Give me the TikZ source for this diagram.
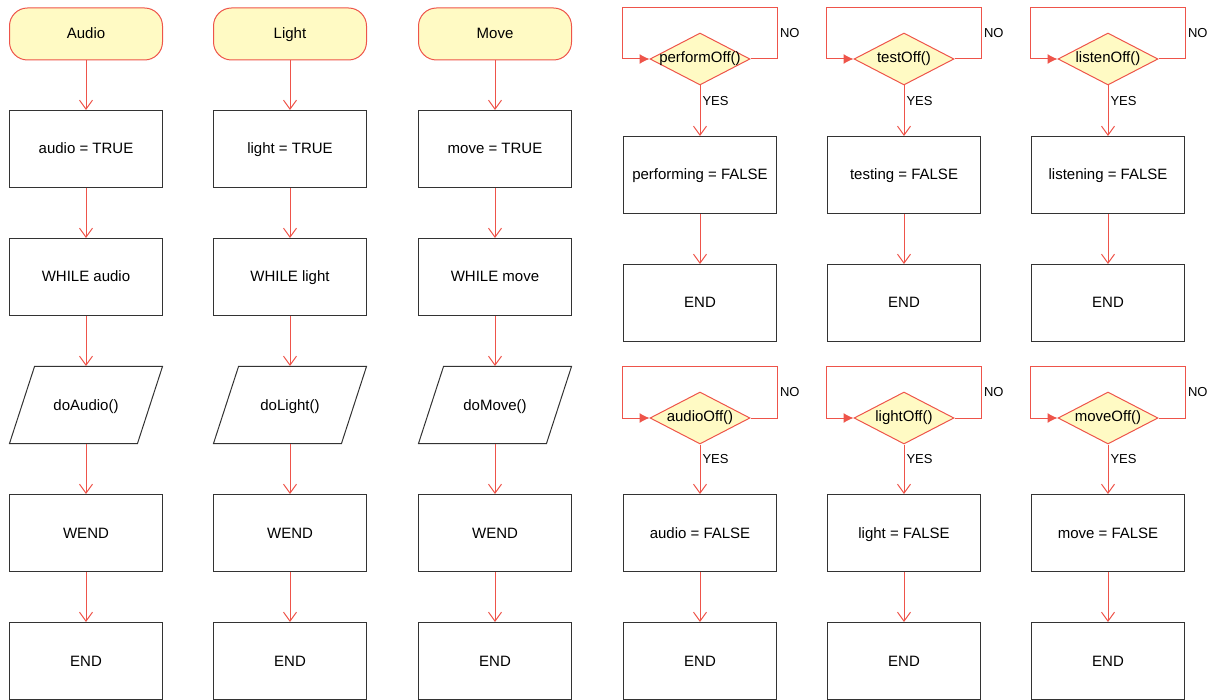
\documentclass[tikz,border=0pt]{standalone}
\usepackage{fontspec}
\setmainfont{Liberation Sans}
\usetikzlibrary{shapes.geometric, arrows.meta}
\definecolor{flowred}{RGB}{238,84,74}
\definecolor{flowyellow}{RGB}{255,250,196}
\tikzset{
    startstop/.style = {
        rectangle, rounded corners=18pt,
        draw=flowred, fill=flowyellow,
        minimum width=153pt,
        minimum height=52pt,
        text height=12pt, text depth=2pt,
        align=center
    },
    process/.style = {
        rectangle, draw=black!80,
        minimum width=153pt,
        minimum height=77pt,
        text height=12pt, text depth=2pt,
        align=center
    },
    io/.style = {
        trapezium, trapezium left angle=72, trapezium right angle=108,
        trapezium stretches body=true,
        draw=black!80,
        minimum width=153pt,
        text height=12pt, text depth=2pt,
        inner ysep=31.5pt
    },
    decision/.style = {
        diamond, draw=flowred, fill=flowyellow,
        minimum width=100pt,
        minimum height=52pt,
        inner sep=0pt
    },
    arrow/.style = {
        -{Straight Barb[length=9pt, width=13pt]}, draw=flowred
    },
    loopback/.style = {
        -{Latex[length=10pt, width=10pt]}, draw=flowred
    },
    answer/.style = {
        font=\fontsize{13}{15}\selectfont, inner sep=2pt
    }
}

\begin{document}
\begin{tikzpicture}[x=1pt, y=-1pt, node distance=128pt, line width=1pt,
    font=\fontsize{15}{18}\selectfont]
\useasboundingbox (0,0) rectangle (1215,700);

% audio thread
\node (audio) [startstop] at (86,34) {Audio};
\node (audioon) [process, below of=audio, yshift=13pt] {audio = TRUE};
\node (audiowhile) [process, below of=audioon] {WHILE audio};
\node (doaudio) [io, below of=audiowhile] {doAudio()};
\node (audiowend) [process, below of=doaudio] {WEND};
\node (audioend) [process, below of=audiowend] {END};

% light thread
\node (light) [startstop] at (290,34) {Light};
\node (lighton) [process, below of=light, yshift=13pt] {light = TRUE};
\node (lightwhile) [process, below of=lighton] {WHILE light};
\node (dolight) [io, below of=lightwhile] {doLight()};
\node (lightwend) [process, below of=dolight] {WEND};
\node (lightend) [process, below of=lightwend] {END};

% move thread
\node (move) [startstop] at (495,34) {Move};
\node (moveon) [process, below of=move, yshift=13pt] {move = TRUE};
\node (movewhile) [process, below of=moveon] {WHILE move};
\node (domove) [io, below of=movewhile] {doMove()};
\node (movewend) [process, below of=domove] {WEND};
\node (moveend) [process, below of=movewend] {END};

\draw [arrow] (audio) -- (audioon);
\draw [arrow] (audioon) -- (audiowhile);
\draw [arrow] (audiowhile) -- (doaudio);
\draw [arrow] (doaudio) -- (audiowend);
\draw [arrow] (audiowend) -- (audioend);

\draw [arrow] (light) -- (lighton);
\draw [arrow] (lighton) -- (lightwhile);
\draw [arrow] (lightwhile) -- (dolight);
\draw [arrow] (dolight) -- (lightwend);
\draw [arrow] (lightwend) -- (lightend);

\draw [arrow] (move) -- (moveon);
\draw [arrow] (moveon) -- (movewhile);
\draw [arrow] (movewhile) -- (domove);
\draw [arrow] (domove) -- (movewend);
\draw [arrow] (movewend) -- (moveend);

% stop flags, top row
\node (perform) [decision, label=center:performOff()] at (700,59) {};
\node (performoff) [process, below of=perform, yshift=12pt] {performing = FALSE};
\node (performend) [process, below of=performoff] {END};

\node (test) [decision, label=center:testOff()] at (904,59) {};
\node (testoff) [process, below of=test, yshift=12pt] {testing = FALSE};
\node (testend) [process, below of=testoff] {END};

\node (listen) [decision, label=center:listenOff()] at (1108,59) {};
\node (listenoff) [process, below of=listen, yshift=12pt] {listening = FALSE};
\node (listenend) [process, below of=listenoff] {END};

% stop flags, bottom row
\node (audiochk) [decision, label=center:audioOff()] at (700,418) {};
\node (audiooff) [process, below of=audiochk, yshift=13pt] {audio = FALSE};
\node (audiooffend) [process, below of=audiooff] {END};

\node (lightchk) [decision, label=center:lightOff()] at (904,418) {};
\node (lightoff) [process, below of=lightchk, yshift=13pt] {light = FALSE};
\node (lightoffend) [process, below of=lightoff] {END};

\node (movechk) [decision, label=center:moveOff()] at (1108,418) {};
\node (moveoff) [process, below of=movechk, yshift=13pt] {move = FALSE};
\node (moveoffend) [process, below of=moveoff] {END};

\draw [arrow] (perform) -- node[answer, right, pos=0.3] {YES} (performoff);
\draw [arrow] (performoff) -- (performend);
\draw [loopback] (perform.east) -| node[answer, right, pos=0.75] {NO} ++(27,-51) -| ([xshift=-27pt]perform.west) -- (perform.west);

\draw [arrow] (test) -- node[answer, right, pos=0.3] {YES} (testoff);
\draw [arrow] (testoff) -- (testend);
\draw [loopback] (test.east) -| node[answer, right, pos=0.75] {NO} ++(27,-51) -| ([xshift=-27pt]test.west) -- (test.west);

\draw [arrow] (listen) -- node[answer, right, pos=0.3] {YES} (listenoff);
\draw [arrow] (listenoff) -- (listenend);
\draw [loopback] (listen.east) -| node[answer, right, pos=0.75] {NO} ++(27,-51) -| ([xshift=-27pt]listen.west) -- (listen.west);

\draw [arrow] (audiochk) -- node[answer, right, pos=0.3] {YES} (audiooff);
\draw [arrow] (audiooff) -- (audiooffend);
\draw [loopback] (audiochk.east) -| node[answer, right, pos=0.75] {NO} ++(27,-51) -| ([xshift=-27pt]audiochk.west) -- (audiochk.west);

\draw [arrow] (lightchk) -- node[answer, right, pos=0.3] {YES} (lightoff);
\draw [arrow] (lightoff) -- (lightoffend);
\draw [loopback] (lightchk.east) -| node[answer, right, pos=0.75] {NO} ++(27,-51) -| ([xshift=-27pt]lightchk.west) -- (lightchk.west);

\draw [arrow] (movechk) -- node[answer, right, pos=0.3] {YES} (moveoff);
\draw [arrow] (moveoff) -- (moveoffend);
\draw [loopback] (movechk.east) -| node[answer, right, pos=0.75] {NO} ++(27,-51) -| ([xshift=-27pt]movechk.west) -- (movechk.west);

\end{tikzpicture}
\end{document}
